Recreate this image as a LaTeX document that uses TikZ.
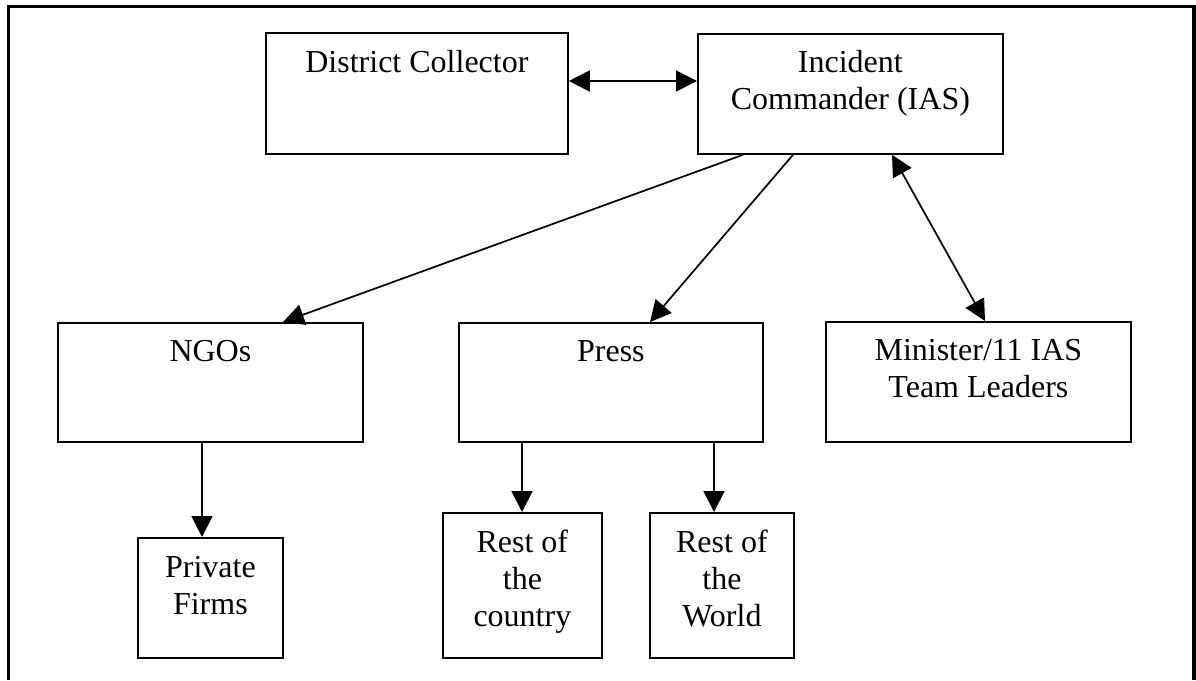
\documentclass[tikz,border=0pt]{standalone}
\usepackage{fontspec}
\setmainfont{Liberation Serif}
\usetikzlibrary{arrows.meta,calc}
\begin{document}
\begin{tikzpicture}[x=1pt,y=-1pt,
  box/.style={draw, line width=1.8pt, inner sep=0pt, anchor=north west},
  lbl/.style={font=\fontsize{32}{37}\selectfont, align=center, inner sep=0pt, anchor=north},
  arr/.style={line width=1.7pt, -{Triangle[length=21pt,width=21pt]}},
  biarr/.style={line width=1.7pt, {Triangle[length=21pt,width=21pt]}-{Triangle[length=21pt,width=21pt]}}]
\useasboundingbox (0,0) rectangle (1196,680);
% outer frame (open at the bottom)
\draw[line width=3.5pt] (8.3,680) -- (8.3,6.3) -- (1194,6.3) -- (1194,680);

% boxes
\node[box, minimum width=302pt, minimum height=121pt] (DC) at (265,32) {};
\node[box, minimum width=305pt, minimum height=120pt] (IC) at (697,33) {};
\node[box, minimum width=305pt, minimum height=119pt] (NGOs) at (57,322) {};
\node[box, minimum width=304pt, minimum height=119pt] (Press) at (458,322) {};
\node[box, minimum width=305pt, minimum height=120pt] (Min) at (825,321) {};
\node[box, minimum width=145pt, minimum height=120pt] (PF) at (137,537) {};
\node[box, minimum width=159pt, minimum height=145pt] (RC) at (442,512) {};
\node[box, minimum width=144pt, minimum height=145pt] (RW) at (649,512) {};

% labels
\node[lbl] (tDC) at ($(DC.north)+(0,14.6)$) {\strut District Collector};
\node[lbl] (tIC) at ($(IC.north)+(0,13.6)$) {\strut Incident\\Commander (IAS)};
\node[lbl] (tNGOs) at ($(NGOs.north)+(0,13.6)$) {\strut NGOs};
\node[lbl] (tPress) at ($(Press.north)+(0,13.6)$) {\strut Press};
\node[lbl] (tMin) at ($(Min.north)+(0,13.6)$) {\strut Minister/11 IAS\\Team Leaders};
\node[lbl] (tPF) at ($(PF.north)+(0,14.1)$) {\strut Private\\Firms};
\node[lbl] (tRC) at ($(RC.north)+(0,14.1)$) {\strut Rest of\\the\\country};
\node[lbl] (tRW) at ($(RW.north)+(0,14.1)$) {\strut Rest of\\the\\World};

% connectors
\draw[biarr] ($(DC.north east)+(0,49)$) -- ($(IC.north west)+(0,48)$);
\draw[arr] ($(IC.south west)+(46,0)$) -- ($(NGOs.north west)+(226,0)$);
\draw[arr] ($(IC.south west)+(96,0)$) -- ($(Press.north west)+(192,0)$);
\draw[biarr] ($(IC.south west)+(195,0)$) -- ($(Min.north west)+(160,0)$);
\draw[arr] ($(NGOs.south west)+(145,0)$) -- ($(PF.north west)+(65,0)$);
\draw[arr] ($(Press.south west)+(64,0)$) -- ($(RC.north west)+(80,0)$);
\draw[arr] ($(Press.south west)+(256,0)$) -- ($(RW.north west)+(65,0)$);
\end{tikzpicture}
\end{document}
